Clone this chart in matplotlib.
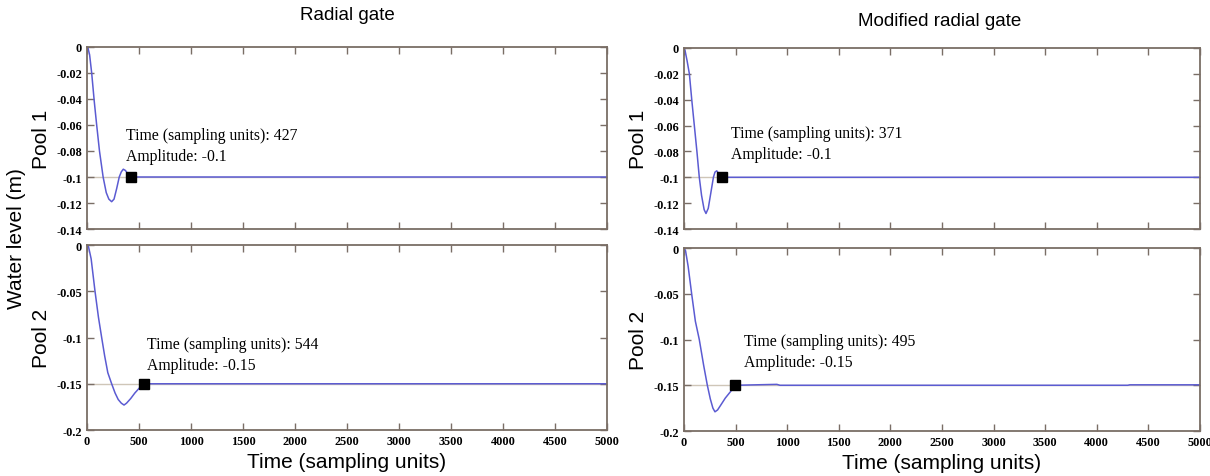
import matplotlib.pyplot as plt

# radial gate, pool 1
t_r1 = [0, 10, 25, 45, 70, 93, 120, 155, 185, 210, 237, 260, 285, 310, 330, 349, 370, 395, 427, 600, 5000]
y_r1 = [0, -0.001, -0.006, -0.02, -0.042, -0.06, -0.08, -0.1, -0.112, -0.117, -0.119, -0.117, -0.109,
        -0.1, -0.096, -0.094, -0.095, -0.098, -0.1, -0.1, -0.1]

# radial gate, pool 2
t_r2 = [0, 15, 40, 77, 110, 141, 170, 200, 237, 270, 300, 330, 356, 380, 420, 460, 500, 544, 5000]
y_r2 = [0, -0.002, -0.015, -0.05, -0.078, -0.1, -0.12, -0.138, -0.15, -0.16, -0.167, -0.171, -0.173,
        -0.171, -0.166, -0.16, -0.155, -0.15, -0.15]

# modified radial gate, pool 1
t_m1 = [0, 10, 30, 52, 75, 100, 125, 148, 170, 195, 213, 235, 260, 285, 300, 317, 335, 355, 371, 5000]
y_m1 = [0, -0.002, -0.01, -0.02, -0.04, -0.06, -0.08, -0.1, -0.114, -0.125, -0.128, -0.124, -0.112,
        -0.1, -0.096, -0.095, -0.097, -0.099, -0.1, -0.1]

# modified radial gate, pool 2
t_m2 = [0, 15, 40, 74, 110, 148, 190, 226, 255, 280, 300, 325, 360, 400, 450, 495, 900, 930, 4300, 4320, 5000]
y_m2 = [0, -0.003, -0.02, -0.05, -0.08, -0.1, -0.128, -0.15, -0.165, -0.175, -0.179, -0.177, -0.171,
        -0.164, -0.157, -0.15, -0.149, -0.15, -0.15, -0.1495, -0.1495]

# data tips (time, amplitude)
tip_r1 = (427, -0.1)
tip_r2 = (544, -0.15)
tip_m1 = (371, -0.1)
tip_m2 = (495, -0.15)

xticks = list(range(0, 5001, 500))
yticks_1 = [0, -0.02, -0.04, -0.06, -0.08, -0.1, -0.12, -0.14]
ylabels_1 = ['0', '-0.02', '-0.04', '-0.06', '-0.08', '-0.1', '-0.12', '-0.14']
yticks_2 = [0, -0.05, -0.1, -0.15, -0.2]
ylabels_2 = ['0', '-0.05', '-0.1', '-0.15', '-0.2']

spine_col = '#7a6e66'
line_col = '#5b5bd2'
ref_col = '#cfc6b8'
serif = ['Liberation Serif', 'DejaVu Serif']
sans = ['Liberation Sans', 'DejaVu Sans']

fig = plt.figure(figsize=(12.1, 4.77), dpi=100)

panels = [
    ([0.0719, 0.5178, 0.4298, 0.3816], t_r1, y_r1, tip_r1, yticks_1, ylabels_1, -0.14, 'Pool 1', (375, -0.09), True),
    ([0.0719, 0.0964, 0.4298, 0.3878], t_r2, y_r2, tip_r2, yticks_2, ylabels_2, -0.2, 'Pool 2', (574, -0.138), False),
    ([0.5653, 0.5178, 0.4264, 0.3795], t_m1, y_m1, tip_m1, yticks_1, ylabels_1, -0.14, 'Pool 1', (452, -0.0884), True),
    ([0.5653, 0.0943, 0.4264, 0.3836], t_m2, y_m2, tip_m2, yticks_2, ylabels_2, -0.2, 'Pool 2', (581, -0.1333), False),
]

axes = []
for rect, t, y, tip, yt, yl, ymin, pool, txt, top in panels:
    ax = fig.add_axes(rect)
    ax.axhline(tip[1], color=ref_col, lw=1, zorder=1)
    ax.plot(t, y, color=line_col, lw=1.1, zorder=2)
    ax.plot(tip[0], tip[1], 's', color='black', ms=7, zorder=3)
    ax.text(txt[0], txt[1], 'Time (sampling units): %d\nAmplitude: %g' % tip,
            family=serif, fontsize=11.3, ha='left', va='bottom', linespacing=1.4)
    ax.set_xlim(0, 5000)
    ax.set_ylim(ymin, 0)
    ax.set_xticks(xticks)
    ax.set_yticks(yt)
    ax.set_yticklabels(yl)
    if top:
        ax.set_xticklabels([])
    ax.tick_params(direction='in', top=True, right=True, length=5, width=1, color=spine_col,
                   labelsize=8.8)
    for lab in ax.get_xticklabels() + ax.get_yticklabels():
        lab.set_family(serif)
        lab.set_fontweight('bold')
    for s in ax.spines.values():
        s.set_color(spine_col)
        s.set_linewidth(1.3)
    ax.set_ylabel(pool, family=sans, fontsize=15, labelpad=4)
    axes.append(ax)

axes[1].set_xlabel('Time (sampling units)', family=sans, fontsize=15, labelpad=4)
axes[3].set_xlabel('Time (sampling units)', family=sans, fontsize=15, labelpad=4)

fig.text(347 / 1210, 1 - 15 / 477, 'Radial gate', family=sans, fontsize=13.5, ha='center', va='center')
fig.text(940 / 1210, 1 - 22 / 477, 'Modified radial gate', family=sans, fontsize=13.5, ha='center', va='center')
fig.text(17 / 1210, 0.5, 'Water level (m)', family=sans, fontsize=15, rotation=90, ha='center', va='center')

fig.savefig('out.png', dpi=100)
